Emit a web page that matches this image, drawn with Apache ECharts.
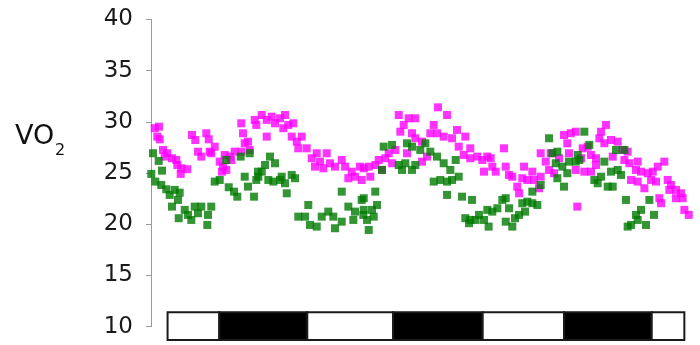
<!DOCTYPE html>
<html>
<head>
<meta charset="utf-8">
<script src="https://cdn.jsdelivr.net/npm/echarts@6/dist/echarts.min.js"></script>
<style>
html,body{margin:0;padding:0;background:#fff;}
#chart{width:700px;height:345px;}
</style>
</head>
<body>
<div id="chart"></div>
<script>
// Time in hours, VO2 values
const magentaPoints = [[0.50,29.37],[0.86,28.55],[1.09,29.52],[1.19,28.29],[1.64,27.25],[1.87,26.60],[2.22,26.93],[2.86,26.44],[3.45,26.27],[3.59,25.78],[4.05,24.91],[4.13,25.46],[4.95,25.37],[5.59,28.71],[6.04,28.22],[6.41,27.08],[6.86,26.60],[7.54,28.88],[7.87,28.29],[8.01,27.08],[8.22,26.93],[8.69,27.57],[9.37,26.11],[9.68,25.13],[9.82,25.62],[10.05,26.76],[10.27,25.30],[10.73,26.60],[10.95,26.27],[11.41,27.08],[12.31,29.85],[12.31,27.08],[12.55,28.88],[12.78,27.90],[13.23,28.06],[13.46,27.25],[14.14,30.18],[14.36,29.69],[15.10,30.66],[15.78,30.18],[15.78,28.55],[16.46,30.50],[16.91,29.85],[17.59,30.34],[18.04,29.37],[18.27,30.66],[18.72,29.69],[19.19,28.55],[19.41,29.85],[19.87,28.06],[20.09,27.41],[20.55,28.55],[21.23,27.41],[21.92,26.44],[22.36,25.62],[22.60,26.93],[23.05,26.11],[23.50,25.46],[23.96,26.93],[24.41,25.95],[25.09,25.62],[26.01,26.27],[26.46,25.62],[26.91,24.49],[27.37,25.13],[27.82,24.64],[28.50,25.62],[28.73,24.32],[29.01,25.46],[29.69,25.62],[29.91,24.64],[30.59,25.78],[31.05,26.27],[31.50,25.30],[31.95,26.44],[32.41,26.93],[32.87,25.95],[33.32,27.25],[33.78,30.66],[34.00,29.03],[34.46,29.69],[34.91,26.93],[35.14,30.34],[35.59,28.88],[36.04,30.34],[36.04,28.39],[36.96,28.06],[36.96,26.11],[37.64,26.60],[38.09,28.88],[38.55,29.69],[39.00,28.88],[39.14,31.41],[39.91,28.55],[40.37,30.66],[41.05,28.39],[41.73,29.20],[41.96,27.57],[42.64,26.76],[42.86,28.55],[43.54,27.41],[43.54,26.44],[44.50,26.60],[45.18,26.27],[45.41,25.13],[45.86,26.60],[46.32,26.44],[46.54,25.62],[47.01,25.13],[48.14,27.41],[48.37,25.62],[48.82,24.81],[49.27,24.64],[49.95,23.67],[50.19,23.02],[50.63,24.49],[50.87,25.62],[51.32,24.32],[52.00,25.13],[52.23,24.32],[52.91,23.51],[53.14,24.64],[53.14,26.93],[53.83,26.11],[54.28,25.30],[54.51,26.93],[54.96,24.98],[55.64,26.44],[56.32,28.71],[56.77,27.90],[57.00,26.93],[57.24,28.88],[57.92,29.03],[57.92,25.30],[58.13,21.72],[58.64,26.44],[58.87,27.41],[59.09,25.13],[59.55,27.57],[60.00,26.76],[60.00,25.13],[60.68,26.44],[60.68,25.78],[61.14,28.39],[61.37,29.03],[61.82,27.90],[62.05,29.69],[62.73,28.22],[62.96,26.60],[63.64,28.06],[64.32,27.25],[64.55,26.27],[65.00,27.08],[65.23,25.95],[65.46,24.32],[66.14,25.30],[66.37,26.11],[66.37,24.16],[66.82,25.13],[67.28,23.51],[67.73,24.98],[68.19,24.32],[68.42,25.13],[68.87,24.16],[69.10,25.62],[69.32,22.54],[69.55,22.05],[70.00,26.11],[70.46,24.32],[70.68,23.35],[70.91,23.83],[71.59,23.35],[71.59,22.54],[72.27,23.02],[72.50,22.54],[72.73,21.40],[73.33,20.91]];

const greenPoints = [[0.04,24.91],[0.27,26.93],[0.59,24.16],[1.05,26.18],[1.40,23.83],[1.50,25.23],[2.09,23.41],[2.55,22.86],[2.86,21.72],[3.23,23.35],[3.68,22.37],[3.78,20.59],[3.91,23.08],[4.60,21.40],[5.05,20.91],[5.50,20.42],[5.96,21.72],[6.41,21.07],[6.86,21.72],[7.68,19.93],[7.77,20.91],[8.22,21.72],[8.69,24.16],[9.37,24.32],[10.27,26.27],[10.60,23.61],[11.32,23.18],[11.77,22.69],[12.23,26.60],[12.78,24.64],[13.23,23.67],[13.46,26.93],[14.05,22.69],[14.36,24.32],[14.59,25.13],[14.64,24.64],[15.10,25.13],[15.55,25.78],[16.00,24.32],[16.23,26.60],[16.68,24.16],[16.91,25.95],[17.59,24.32],[17.82,24.64],[18.27,24.00],[18.51,23.02],[19.19,24.81],[19.64,24.49],[20.09,20.74],[21.00,20.74],[21.45,21.88],[21.68,19.93],[22.60,19.77],[23.28,20.74],[24.18,21.23],[24.86,20.74],[25.09,19.61],[26.01,20.25],[26.01,23.18],[26.91,21.72],[27.59,20.42],[27.82,21.23],[28.73,22.37],[28.96,20.91],[29.01,22.54],[29.01,21.40],[29.46,20.42],[29.69,19.44],[30.14,21.40],[30.37,20.74],[30.59,23.18],[30.82,21.88],[31.50,25.30],[31.73,27.57],[32.87,27.74],[33.78,25.78],[34.23,25.30],[34.68,25.95],[34.91,27.90],[35.59,27.57],[35.59,25.30],[36.04,25.78],[36.72,27.25],[37.41,27.90],[38.09,27.08],[38.55,24.16],[39.00,26.60],[39.45,24.32],[39.91,25.95],[40.37,24.16],[40.37,22.86],[40.82,25.30],[41.05,24.32],[41.55,26.27],[41.96,24.64],[42.41,22.69],[42.86,20.59],[43.37,20.10],[43.54,20.42],[43.78,22.37],[44.27,20.42],[44.73,20.91],[45.41,20.42],[45.86,21.40],[46.04,19.77],[46.54,21.23],[47.23,21.56],[47.91,22.37],[48.37,22.54],[48.37,20.25],[48.82,21.56],[49.27,19.77],[49.64,20.59],[50.19,20.91],[50.63,22.05],[51.00,21.23],[51.32,22.20],[52.00,22.05],[52.00,23.18],[52.68,21.88],[53.14,23.83],[54.28,28.39],[54.73,26.93],[55.19,25.95],[55.41,27.08],[55.41,24.49],[56.09,25.62],[56.32,23.67],[56.77,24.98],[57.00,26.11],[57.92,26.11],[58.19,26.76],[58.41,26.27],[59.09,29.03],[59.77,27.74],[60.46,24.32],[60.91,24.00],[61.37,24.64],[61.82,26.11],[62.28,23.67],[62.73,25.13],[62.96,23.67],[63.41,27.25],[63.64,25.30],[64.09,24.81],[64.55,27.25],[64.77,22.37],[65.00,19.77],[65.46,19.93],[66.14,20.91],[66.37,20.42],[66.82,21.40],[67.50,19.93],[67.96,22.37],[68.59,20.91]];

// Light (0) / dark (1) phases: start hour, end hour, dark flag
const phaseStarts = [2.26, 9.31, 21.31, 33.02, 45.23, 56.32, 68.28];
const phaseEnds   = [9.31, 21.31, 33.02, 45.23, 56.32, 68.28, 72.73];
const phaseDark   = [0, 1, 0, 1, 0, 1, 0];
const stripRange  = [8.71, 11.41];

const yMin = 10, yMax = 40, yStep = 5;
const xMin = 0, xMax = 73.5;

const phaseData = phaseStarts.map((s, i) => [s, phaseEnds[i], phaseDark[i]]);

const chart = echarts.init(document.getElementById('chart'), null, {renderer: 'canvas'});
const FONT = 'DejaVu Sans';

chart.setOption({
  animation: false,
  backgroundColor: '#ffffff',
  grid: {left: 151, right: 10, top: 19.3, bottom: 18.3, containLabel: false},
  graphic: [
    {type: 'text', left: 15, top: 123, style: {text: 'VO', font: '27px "DejaVu Sans"', fill: '#111'}},
    {type: 'text', left: 55, top: 143, style: {text: '2', font: '16px "DejaVu Sans"', fill: '#111'}}
  ],
  xAxis: {
    type: 'value', min: xMin, max: xMax, show: false
  },
  yAxis: {
    type: 'value', min: yMin, max: yMax, interval: yStep,
    axisLine: {show: true, lineStyle: {color: '#9a9a9a', width: 1}},
    axisTick: {show: true, length: 5, lineStyle: {color: '#9a9a9a'}},
    splitLine: {show: false},
    axisLabel: {fontFamily: FONT, fontSize: 23, color: '#1a1a1a', margin: 18}
  },
  series: [
    {
      type: 'custom',
      clip: false,
      silent: true,
      data: phaseData,
      renderItem: function (params, api) {
        const p0 = api.coord([api.value(0), stripRange[1]]);
        const p1 = api.coord([api.value(1), stripRange[0]]);
        const dark = api.value(2) === 1;
        return {
          type: 'rect',
          shape: {x: p0[0], y: p0[1], width: p1[0] - p0[0], height: p1[1] - p0[1]},
          style: {fill: dark ? '#000000' : '#ffffff', stroke: '#1a1a1a', lineWidth: 2}
        };
      },
      z: 1
    },
    {
      type: 'scatter',
      data: magentaPoints,
      symbol: 'rect',
      symbolSize: 8,
      itemStyle: {color: '#ff00ff'},
      z: 2
    },
    {
      type: 'scatter',
      data: greenPoints,
      symbol: 'rect',
      symbolSize: 8,
      itemStyle: {color: '#007a00'},
      z: 3
    }
  ]
});
</script>
</body>
</html>
